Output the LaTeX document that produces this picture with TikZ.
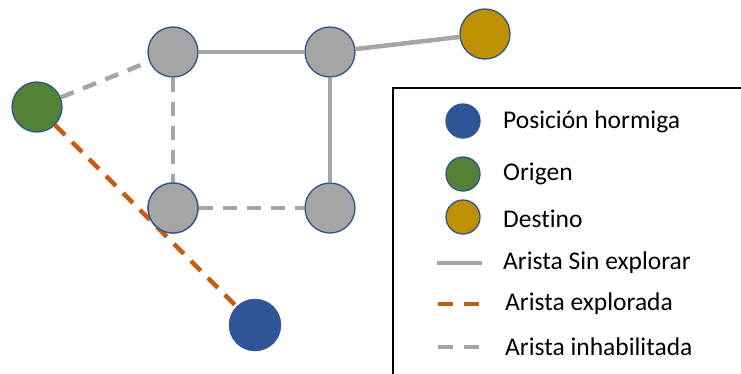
\documentclass[tikz,border=0pt]{standalone}
\usepackage{fontspec}
\setmainfont[Ligatures=NoCommon]{Carlito}
\definecolor{nodegray}{HTML}{A5A5A5}
\definecolor{rimblue}{HTML}{2F528F}
\definecolor{antblue}{HTML}{2F5597}
\definecolor{origgreen}{HTML}{548235}
\definecolor{destgold}{HTML}{BF9000}
\definecolor{exporange}{HTML}{C55A11}
\begin{document}
\begin{tikzpicture}[x=1pt,y=-1pt,
  vertex/.style={circle,draw=rimblue,line width=1.3pt,minimum size=50pt,inner sep=0pt,fill=nodegray},
  unexplored/.style={draw=nodegray,line width=4.5pt},
  explored/.style={draw=exporange,line width=4.5pt,dash pattern=on 14pt off 10pt},
  disabled/.style={draw=nodegray,line width=4.5pt,dash pattern=on 14pt off 10pt},
  keymark/.style={circle,draw=rimblue,line width=1.3pt,minimum size=34pt,inner sep=0pt},
  keytext/.style={anchor=west,font=\fontsize{25.5}{30}\selectfont,inner sep=0pt}]
\useasboundingbox (0,0) rectangle (741,373);
\clip (0,0) rectangle (741,373);

% graph vertices
\node[vertex] (tl) at (173,52) {};
\node[vertex] (tr) at (330,52) {};
\node[vertex] (bl) at (173,208) {};
\node[vertex] (br) at (330,208) {};
\node[vertex,fill=origgreen] (orig) at (37,107) {};
\node[vertex,fill=destgold] (dest) at (485,34) {};
\node[circle,fill=antblue,draw=antblue,minimum size=52pt,inner sep=0pt] (ant) at (255,325) {};

% edges between vertices
\path[explored] (orig) -- (ant);
\path[disabled] (orig) -- (tl);
\path[disabled] (tl) -- (bl);
\path[disabled] (bl) -- (br);
\path[unexplored] (tl) -- (tr);
\path[unexplored] (tr) -- (br);
\path[unexplored] (tr) -- (dest);

% the explored edge runs under this vertex
\node[vertex] at (bl) {};

% legend
\draw[line width=1.5pt] (393,88) rectangle (760,390);
\node[keymark,fill=antblue,draw=antblue] (k1) at (463,121) {};
\node[keymark,fill=origgreen] (k2) at (463,174) {};
\node[keymark,fill=destgold] (k3) at (463,217) {};
\coordinate (l1a) at (437,263); \coordinate (l1b) at (482,263);
\coordinate (l2a) at (438,304); \coordinate (l2b) at (484,304);
\coordinate (l3a) at (438,347); \coordinate (l3b) at (484,347);
\path[unexplored] (l1a) -- (l1b);
\path[explored,dash pattern=on 15pt off 11pt] (l2a) -- (l2b);
\path[disabled,dash pattern=on 15pt off 11pt] (l3a) -- (l3b);
\node[keytext] (t1) at (503,122) {Posición hormiga};
\node[keytext] (t2) at (503,174) {Origen};
\node[keytext] (t3) at (503,219) {Destino};
\node[keytext] (t4) at (503,263) {Arista Sin explorar};
\node[keytext] (t5) at (505,304) {Arista explorada};
\node[keytext] (t6) at (505,347) {Arista inhabilitada};
\end{tikzpicture}
\end{document}
